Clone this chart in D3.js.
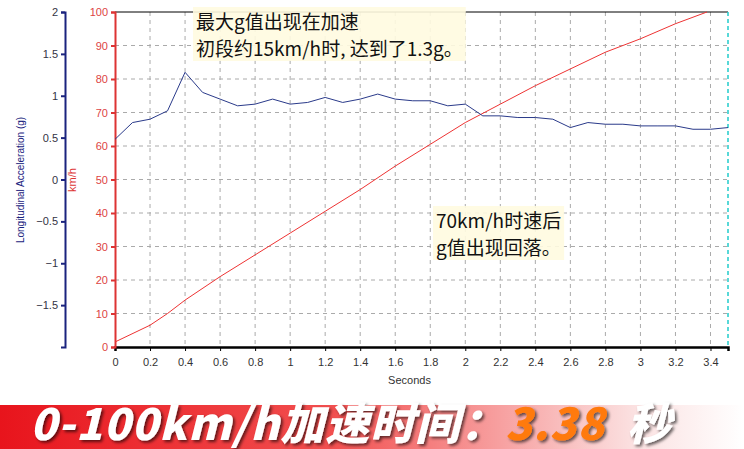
<!DOCTYPE html>
<html><head><meta charset="utf-8">
<script src="https://cdn.jsdelivr.net/npm/d3@7"></script>
<style>body{margin:0;background:#fff}svg{display:block;font-family:Arial,"Liberation Sans",sans-serif}</style>
</head><body><div id="viz"></div>
<script>
// data
const accTimes = [0,0.1,0.2,0.3,0.4,0.5,0.6,0.7,0.8,0.9,1.0,1.1,1.2,1.3,1.4,1.5,1.6,1.7,1.8,1.9,2.0,2.1,2.2,2.3,2.4,2.5,2.6,2.7,2.8,2.9,3.0,3.1,3.2,3.3,3.4,3.5];
const accG = [0.48,0.68,0.72,0.82,1.28,1.04,0.96,0.88,0.9,0.96,0.9,0.92,0.98,0.92,0.96,1.02,0.96,0.94,0.94,0.88,0.9,0.76,0.76,0.74,0.74,0.72,0.62,0.68,0.66,0.66,0.64,0.64,0.64,0.6,0.6,0.62];
const spdTimes = [0,0.2,0.3,0.4,0.6,0.8,1.0,1.2,1.4,1.6,1.8,2.0,2.2,2.4,2.6,2.8,3.0,3.2,3.38];
const spdKmh = [1.5,6.5,10,14,21,27.5,34,40.5,47,54,60.5,67,72.5,78,83,88,92,96.5,100];
const xTicks = d3.range(0,3.41,0.2);
const gTicks = [-1.5,-1,-0.5,0,0.5,1,1.5,2];
const vTicks = d3.range(0,101,10);

const W=744,H=449;
const svg=d3.select("#viz").append("svg").attr("width",W).attr("height",H);
const x=d3.scaleLinear().domain([0,3.5]).range([115,728]);
const yv=d3.scaleLinear().domain([0,100]).range([347,12]);
const yg=d3.scaleLinear().domain([-2,2]).range([347,12]);

// grid
const grid=svg.append("g").attr("stroke","#aaa").attr("stroke-dasharray","4,4").attr("stroke-width",1);
xTicks.slice(1).forEach(t=>grid.append("line").attr("x1",x(t)).attr("x2",x(t)).attr("y1",12).attr("y2",347));
vTicks.slice(1,-1).forEach(v=>grid.append("line").attr("x1",115).attr("x2",728).attr("y1",yv(v)).attr("y2",yv(v)));
svg.append("line").attr("x1",115).attr("x2",728).attr("y1",12).attr("y2",12).attr("stroke","#000");
svg.append("line").attr("x1",728).attr("x2",728).attr("y1",12).attr("y2",347).attr("stroke","#2cc").attr("stroke-dasharray","4,3").attr("stroke-width",1.5);

// x axis
const xa=svg.append("g").attr("transform","translate(0,347)")
  .call(d3.axisBottom(x).tickValues(xTicks).tickSize(4).tickFormat(d3.format("~g")));
xa.select(".domain").attr("stroke","#000").attr("stroke-width",2.5);
xa.selectAll("text").attr("font-size",11).attr("fill","#333").attr("dy","1.1em");
svg.append("text").attr("x",(115+728)/2-12).attr("y",384).attr("text-anchor","middle").attr("font-size",11).attr("fill","#333").text("Seconds");

// km/h axis
const va=svg.append("g").attr("transform","translate(115,0)").call(d3.axisLeft(yv).tickValues(vTicks).tickSize(4));
va.selectAll("path,line").attr("stroke","#d33").attr("stroke-width",2);
va.selectAll("text").attr("fill","#d44").attr("font-size",11);
svg.append("text").attr("transform","translate(76,180) rotate(-90)").attr("text-anchor","middle").attr("font-size",11).attr("fill","#d33").text("km/h");

// g axis
const ga=svg.append("g").attr("transform","translate(65,0)").call(d3.axisLeft(yg).tickValues(gTicks).tickSize(4).tickFormat(d3.format("~g")));
ga.selectAll("path,line").attr("stroke","#1a237e").attr("stroke-width",2);
ga.selectAll("text").attr("fill","#334").attr("font-size",11);
svg.append("text").attr("transform","translate(24,180) rotate(-90)").attr("text-anchor","middle").attr("font-size",10).attr("fill","#1a237e").text("Longitudinal Acceleration (g)");

// lines
svg.append("path").datum(spdTimes.map((t,i)=>[t,spdKmh[i]]))
  .attr("d",d3.line().x(d=>x(d[0])).y(d=>yv(d[1]))).attr("fill","none").attr("stroke","#e33").attr("stroke-width",1);
svg.append("path").datum(accTimes.map((t,i)=>[t,accG[i]]))
  .attr("d",d3.line().x(d=>x(d[0])).y(d=>yg(d[1]))).attr("fill","none").attr("stroke","#2a3a8a").attr("stroke-width",1);

// annotations
function note(lines,x0,y0){
  const g=svg.append("g");
  lines.forEach((s,i)=>g.append("text").attr("x",x0).attr("y",y0+i*27).attr("font-size",19)
    .attr("font-family","'Noto Sans CJK SC',sans-serif").attr("fill","#111").text(s));
  const b=g.node().getBBox();
  g.insert("rect","text").attr("x",b.x-3).attr("y",b.y).attr("width",b.width+6).attr("height",b.height).attr("fill","#fffbe0").attr("opacity",0.9);
}
note(["最大g值出现在加速","初段约15km/h时, 达到了1.3g。"],196,29);
note(["70km/h时速后","g值出现回落。"],436,228);

// banner
const defs=svg.append("defs");
const lg=defs.append("linearGradient").attr("id","bg");
lg.append("stop").attr("offset","0%").attr("stop-color","#e8141c");
lg.append("stop").attr("offset","45%").attr("stop-color","#f25050");
lg.append("stop").attr("offset","85%").attr("stop-color","#fbe0e0");
lg.append("stop").attr("offset","100%").attr("stop-color","#fff");
svg.append("rect").attr("x",0).attr("y",405).attr("width",W).attr("height",44).attr("fill","url(#bg)");
const f=defs.append("filter").attr("id","sh");
f.append("feDropShadow").attr("dx",2).attr("dy",2).attr("stdDeviation",1.5).attr("flood-color","#000").attr("flood-opacity",0.6);
const bt=svg.append("text").attr("x",30).attr("y",440).attr("font-size",44).attr("font-weight",900).attr("font-style","italic")
  .attr("font-family","'Noto Sans CJK SC',sans-serif").attr("filter","url(#sh)").attr("fill","#fff").attr("letter-spacing",1);
bt.append("tspan").text("0-100km/h加速时间：");
bt.append("tspan").attr("fill","#ff7a10").text("3.38");
bt.append("tspan").attr("dx",22).text("秒");
</script></body></html>
